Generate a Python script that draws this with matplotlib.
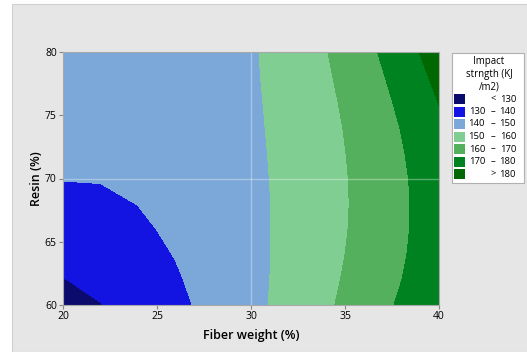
import numpy as np
import matplotlib
matplotlib.use("Agg")
import matplotlib.pyplot as plt
from matplotlib.patches import Rectangle

plt.rcParams['font.family'] = ['Open Sans', 'DejaVu Sans']

# grid of impact strength values
fiber = [20, 22, 24, 26, 28, 30, 32, 34, 36, 38, 40]
resin = [60, 62, 64, 66, 68, 70, 72, 74, 76, 78, 80]
impact = [
    [126.0, 129.7, 133.7, 138.0, 142.6, 147.6, 152.9, 158.6, 164.7, 171.3, 178.3],
    [129.7, 132.5, 135.6, 139.2, 143.2, 147.6, 152.4, 157.8, 163.6, 169.9, 176.8],
    [132.9, 134.9, 137.4, 140.3, 143.7, 147.7, 152.1, 157.2, 162.8, 169.0, 175.8],
    [135.8, 137.0, 138.9, 141.2, 144.2, 147.8, 152.0, 156.8, 162.3, 168.5, 175.4],
    [138.2, 138.8, 140.1, 142.1, 144.7, 147.9, 151.9, 156.7, 162.1, 168.4, 175.4],
    [140.2, 140.3, 141.1, 142.7, 145.0, 148.1, 152.0, 156.7, 162.3, 168.6, 175.9],
    [141.7, 141.4, 141.9, 143.2, 145.3, 148.3, 152.2, 157.0, 162.7, 169.3, 176.9],
    [142.8, 142.2, 142.4, 143.5, 145.5, 148.5, 152.5, 157.4, 163.3, 170.3, 178.3],
    [143.5, 142.6, 142.6, 143.6, 145.6, 148.7, 152.8, 158.0, 164.3, 171.7, 180.2],
    [143.7, 142.6, 142.5, 143.5, 145.6, 148.9, 153.2, 158.8, 165.5, 173.4, 182.5],
    [143.3, 142.2, 142.1, 143.2, 145.5, 149.0, 153.7, 159.7, 166.9, 175.4, 185.2],
]
levels = [130, 140, 150, 160, 170, 180]
colors = ['#0b0b6e', '#1414e2', '#7ba7d9', '#80ce91', '#54b05c', '#008220', '#006800']
xticks = [20, 25, 30, 35, 40]
yticks = [60, 65, 70, 75, 80]

W, H = 527, 352
fig = plt.figure(figsize=(W / 100, H / 100), dpi=100, facecolor='white')
# grey panel behind everything
fig.patches.append(Rectangle((12 / W, 0), 1, 1 - 4 / H, transform=fig.transFigure,
                             facecolor='#e6e6e6', edgecolor='#cfcfcf', lw=0.8, zorder=-10))

ax = fig.add_axes([63 / W, 1 - 305 / H, (439 - 63) / W, (305 - 52) / H])
Z = np.array(impact)
ax.contourf(fiber, resin, Z, levels=[100] + levels + [200], colors=colors)
ax.axvline(30, color='white', alpha=0.35, lw=1)
ax.axhline(70, color='white', alpha=0.35, lw=1)

ax.set_xlim(20, 40)
ax.set_ylim(60, 80)
ax.set_xticks(xticks)
ax.set_yticks(yticks)
ax.tick_params(labelsize=7.5, length=3, width=0.8, color='#888888', pad=1.5)
for sp in ax.spines.values():
    sp.set_color('#a8a8a8')
    sp.set_linewidth(0.8)
ax.set_xlabel('Fiber weight (%)', fontsize=9, fontweight='semibold', labelpad=5)
ax.set_ylabel('Resin (%)', fontsize=9, fontweight='semibold', labelpad=1)

# legend box drawn by hand like Minitab
def fx(px):
    return px / W
def fy(py):
    return 1 - py / H

fig.patches.append(Rectangle((fx(452), fy(183)), fx(524) - fx(452), fy(53) - fy(183),
                             transform=fig.transFigure, facecolor='white',
                             edgecolor='#b0b0b0', lw=0.8))
fig.text(fx(489), fy(56), 'Impact\nstrngth (KJ\n/m2)', ha='center', va='top',
         fontsize=6.9, linespacing=1.2)
labels = [('', '<', levels[0])]
for lo, hi in zip(levels[:-1], levels[1:]):
    labels.append((lo, '–', hi))
labels.append(('', '>', levels[-1]))
for i, (c, (lo, sym, hi)) in enumerate(zip(colors, labels)):
    yc = 99 + i * 12.5
    fig.patches.append(Rectangle((fx(454), fy(yc + 5)), fx(11), 10 / H,
                                 transform=fig.transFigure, facecolor=c, edgecolor='none'))
    fig.text(fx(485), fy(yc), str(lo), ha='right', va='center', fontsize=6.8)
    fig.text(fx(493), fy(yc), sym, ha='center', va='center', fontsize=6.8)
    fig.text(fx(516), fy(yc), str(hi), ha='right', va='center', fontsize=6.8)

fig.savefig('out.png', dpi=100, facecolor=fig.get_facecolor())
